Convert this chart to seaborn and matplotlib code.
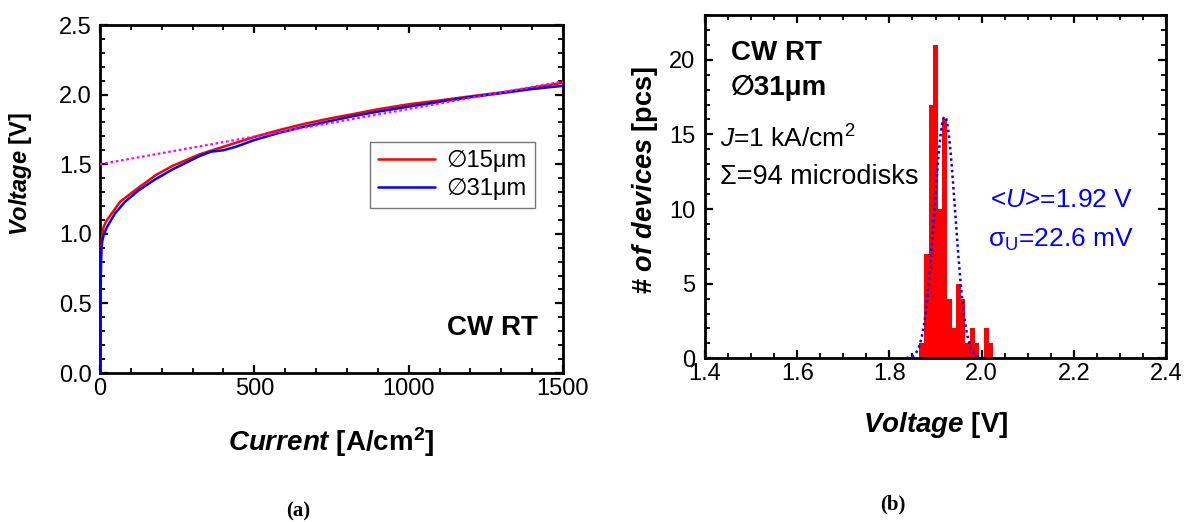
import numpy as np
import pandas as pd
import matplotlib
matplotlib.use("Agg")
import matplotlib.pyplot as plt
import seaborn as sns
from matplotlib.ticker import MultipleLocator, FormatStrFormatter

# ---------------- data ----------------
current_15 = [2.0, 2.0, 2.2, 2.6, 3.2, 4.5, 7.5, 12, 20, 38, 65, 100, 130, 183, 237, 324,
              399, 502, 580, 658, 745, 820, 896, 1004, 1100, 1187, 1316, 1400, 1500]
voltage_15 = [0.0, 0.3, 0.55, 0.72, 0.84, 0.93, 1.0, 1.05, 1.09, 1.146, 1.23, 1.29, 1.34,
              1.425, 1.49, 1.572, 1.625, 1.697, 1.745, 1.788, 1.829, 1.86, 1.893, 1.932,
              1.958, 1.984, 2.02, 2.05, 2.085]
current_31 = [2.0, 2.0, 2.2, 2.6, 3.2, 4.5, 7.5, 12, 20, 27, 48.6, 81, 124, 178, 237, 324,
              360, 399, 440, 502, 580, 658, 745, 820, 896, 1004, 1100, 1187, 1316, 1400, 1500]
voltage_31 = [0.0, 0.3, 0.5, 0.68, 0.8, 0.88, 0.95, 0.99, 1.035, 1.065, 1.146, 1.23, 1.31,
              1.39, 1.465, 1.56, 1.59, 1.6, 1.625, 1.675, 1.725, 1.768, 1.81, 1.845, 1.876,
              1.915, 1.948, 1.978, 2.015, 2.04, 2.063]
fit_current = [0, 1500]
fit_voltage = [1.5, 2.095]

hist_voltage = [1.87, 1.88, 1.89, 1.90, 1.91, 1.92, 1.93, 1.94, 1.95, 1.96, 1.97, 1.98,
                1.99, 2.00, 2.01, 2.02]
hist_counts = [1, 7, 17, 21, 10, 16, 4, 2, 5, 4, 1, 2, 1, 0, 2, 1]
mean_U = 1.92
sigma_U = 0.0226
gauss_peak = 16.2

labels_iv = ["\u220515\u03bcm", "\u220531\u03bcm"]

# ---------------- style ----------------
sns.set_theme(style="ticks")
plt.rcParams["font.family"] = ["Liberation Sans", "DejaVu Sans"]
plt.rcParams["mathtext.fontset"] = "custom"
plt.rcParams["mathtext.rm"] = "Liberation Sans"
plt.rcParams["mathtext.it"] = "Liberation Sans:italic"
plt.rcParams["mathtext.bf"] = "Liberation Sans:bold"
plt.rcParams["mathtext.bfit"] = "Liberation Sans:bold:italic"
plt.rcParams["axes.linewidth"] = 2
plt.rcParams["text.color"] = "black"
plt.rcParams["axes.labelcolor"] = "black"
plt.rcParams["xtick.color"] = "black"
plt.rcParams["ytick.color"] = "black"

fig = plt.figure(figsize=(11.89, 5.22), dpi=100)
W, H = 1189, 522
axL = fig.add_axes([100 / W, 1 - 373 / H, 463 / W, 348 / H])
axR = fig.add_axes([705 / W, 1 - 358.3 / H, 461 / W, 343.3 / H])


def style_axis(ax, ypad):
    ax.tick_params(which="both", direction="in", top=True, right=True,
                   colors="black", labelcolor="black", labelsize=17)
    ax.tick_params(which="major", length=6, width=1.6)
    ax.tick_params(which="minor", length=3.5, width=1.3)
    ax.tick_params(axis="y", pad=ypad)
    for s in ax.spines.values():
        s.set_color("black")
        s.set_linewidth(2)


# ---------------- left: I-V ----------------
df15 = pd.DataFrame({"I": current_15, "V": voltage_15})
df31 = pd.DataFrame({"I": current_31, "V": voltage_31})
sns.lineplot(data=df15, x="I", y="V", ax=axL, color="#ff0000", lw=1.8,
             estimator=None, sort=False, label=labels_iv[0], zorder=4)
sns.lineplot(data=df31, x="I", y="V", ax=axL, color="#0000ff", lw=1.8,
             estimator=None, sort=False, label=labels_iv[1], zorder=4)
axL.plot(fit_current, fit_voltage, color="#ff00ff", lw=1.6, ls=(0, (1.2, 1.2)), zorder=5)

axL.set_xlim(0, 1500)
axL.set_ylim(0, 2.5)
axL.xaxis.set_major_locator(MultipleLocator(500))
axL.xaxis.set_minor_locator(MultipleLocator(100))
axL.yaxis.set_major_locator(MultipleLocator(0.5))
axL.yaxis.set_minor_locator(MultipleLocator(0.1))
axL.yaxis.set_major_formatter(FormatStrFormatter("%.1f"))
style_axis(axL, 6)

axL.set_xlabel(r"$\mathbfit{Current}$ [A/cm$^{\mathbf{2}}$]", fontsize=20, fontweight="bold")
axL.set_ylabel(r"$\mathbfit{Voltage}$ [V]", fontsize=17, fontweight="bold")
axL.xaxis.set_label_coords(0.5, -0.15)
axL.yaxis.set_label_coords(-0.143, 0.571)

leg = axL.legend(loc="upper right", bbox_to_anchor=(535 / W, 1 - 141.7 / H),
                 bbox_transform=fig.transFigure, borderaxespad=0, fontsize=17,
                 fancybox=False, frameon=True, edgecolor="#555555",
                 handlelength=2.4, handletextpad=0.5, borderpad=0.35, labelspacing=0.25)
leg.get_frame().set_linewidth(1.0)
for t in leg.get_texts():
    t.set_color("black")

axL.text(0.9454, 0.11, "CW RT", transform=axL.transAxes, ha="right", va="baseline",
         fontsize=20, fontweight="bold")

# ---------------- right: histogram ----------------
dfh = pd.DataFrame({"U": hist_voltage, "n": hist_counts})
bw = 0.01
sns.histplot(data=dfh, x="U", weights="n", bins=len(hist_voltage),
             binrange=(hist_voltage[0] - bw / 2, hist_voltage[-1] + bw / 2),
             element="step", fill=True, color="#ff0000", alpha=1,
             linewidth=0, ax=axR)

ug = np.linspace(1.4, 2.4, 600)
gauss = gauss_peak * np.exp(-0.5 * ((ug - mean_U) / sigma_U) ** 2)
sns.lineplot(x=ug, y=gauss, ax=axR, color="#0000ff", lw=1.8, ls=(0, (1, 1.3)), zorder=5)

axR.set_xlim(1.4, 2.4)
axR.set_ylim(0, 23)
axR.xaxis.set_major_locator(MultipleLocator(0.2))
axR.xaxis.set_minor_locator(MultipleLocator(0.05))
axR.yaxis.set_major_locator(MultipleLocator(5))
axR.yaxis.set_minor_locator(MultipleLocator(1))
axR.xaxis.set_major_formatter(FormatStrFormatter("%.1f"))
style_axis(axR, 7)

axR.set_xlabel(r"$\mathbfit{Voltage}$ [V]", fontsize=20, fontweight="bold")
axR.set_ylabel(r"# $\mathbfit{of\ devices}$ [pcs]", fontsize=19.5, fontweight="bold")
axR.xaxis.set_label_coords(0.5, -0.15)
axR.yaxis.set_label_coords(-0.098, 0.519)

axR.text(0.0564, 0.869, "CW RT", transform=axR.transAxes, ha="left", va="baseline",
         fontsize=20, fontweight="bold")
axR.text(0.0564, 0.767, "\u220531\u03bcm", transform=axR.transAxes, ha="left",
         va="baseline", fontsize=20, fontweight="bold")
axR.text(0.0325, 0.6135, r"$\mathit{J}$=1 kA/cm$^2$", transform=axR.transAxes,
         ha="left", va="baseline", fontsize=19)
axR.text(0.0325, 0.507, "\u03a3=94 microdisks", transform=axR.transAxes,
         ha="left", va="baseline", fontsize=19.5)
axR.text(0.618, 0.44, r"<$\mathit{U}$>=1.92 V", transform=axR.transAxes,
         ha="left", va="baseline", fontsize=19, color="#0000ff")
axR.text(0.614, 0.325, "\u03c3$_\\mathrm{U}$=22.6 mV", transform=axR.transAxes,
         ha="left", va="baseline", fontsize=19, color="#0000ff")

# ---------------- captions ----------------
fig.text(298 / W, 1 - 511 / H, "(a)", ha="center", va="center", fontsize=15,
         fontweight="bold", family=["Liberation Serif", "DejaVu Serif"])
fig.text(893 / W, 1 - 504 / H, "(b)", ha="center", va="center", fontsize=15,
         fontweight="bold", family=["Liberation Serif", "DejaVu Serif"])

fig.savefig("out.png", dpi=100)
